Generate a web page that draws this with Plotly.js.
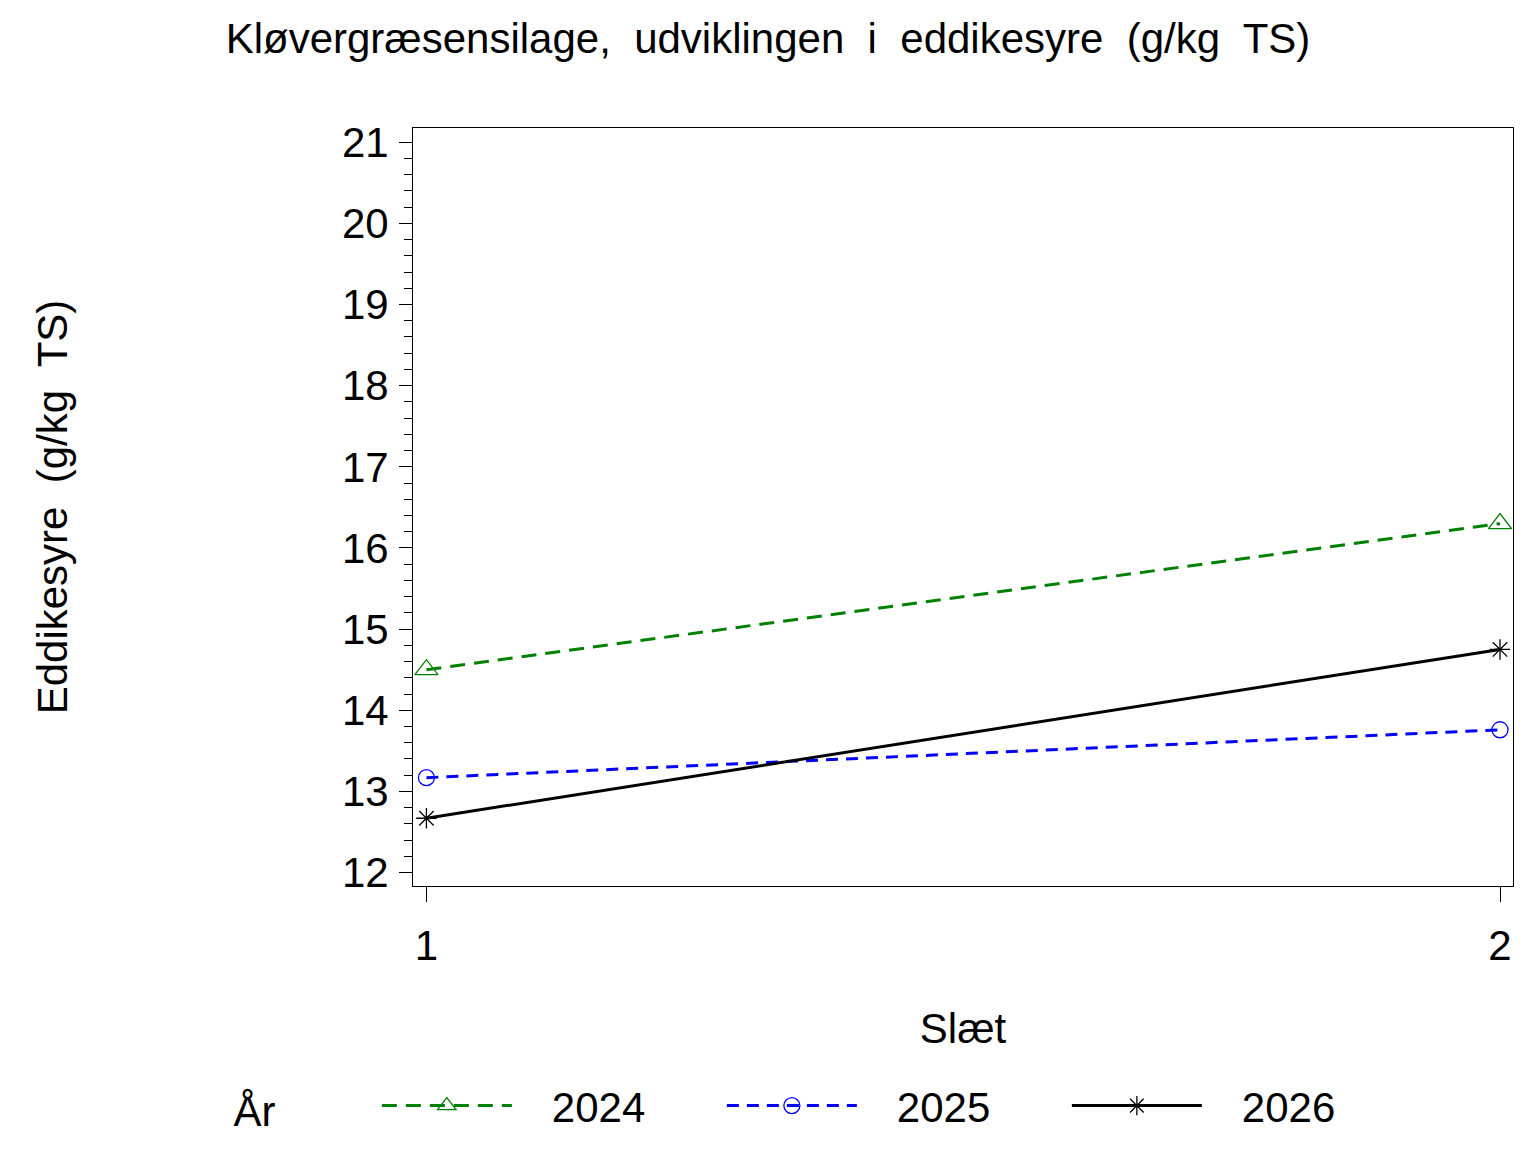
<!DOCTYPE html>
<html>
<head>
<meta charset="utf-8">
<script src="https://cdn.plot.ly/plotly-3.0.1.min.js"></script>
<style>
  body { margin: 0; background: #fff; }
  #chart { width: 1536px; height: 1152px; }
</style>
</head>
<body>
<div id="chart"></div>
<script>
var slaet = [1, 2];
var years = ['2024', '2025', '2026'];

var eddike2024 = [14.50, 16.30];
var eddike2025 = [13.17, 13.76];
var eddike2026 = [12.67, 14.75];

var lineColors = ['#008000', '#0000ff', '#000000'];
var lineDash = ['15px,9px', '12px,8px', 'solid'];
var symbols = ['triangle-up-open', 'circle-open', 'asterisk-open'];
var markerSizes = [20, 16, 17];

var allValues = [eddike2024, eddike2025, eddike2026];
var font = 'Liberation Sans, Arial, sans-serif';
var nb = '\u00a0';

var data = years.map(function (yr, i) {
  return {
    x: slaet,
    y: allValues[i],
    type: 'scatter',
    mode: 'lines+markers',
    name: nb + nb + nb + yr,
    line: {color: lineColors[i], width: 3, dash: lineDash[i]},
    marker: {symbol: symbols[i], size: markerSizes[i], color: lineColors[i],
             line: {width: 1.3, color: lineColors[i]}}
  };
});

var layout = {
  width: 1536,
  height: 1152,
  paper_bgcolor: '#fff',
  plot_bgcolor: '#fff',
  font: {family: font, size: 42, color: '#000'},
  margin: {t: 128, b: 266, l: 413, r: 23},
  title: {
    text: 'Kløvergræsensilage,' + nb + ' udviklingen' + nb + ' i' + nb + ' eddikesyre' + nb + ' (g/kg' + nb + ' TS)',
    font: {family: font, size: 42, color: '#000'},
    x: 0.5, xref: 'container', xanchor: 'center',
    y: 1 - 38 / 1152, yref: 'container', yanchor: 'middle'
  },
  xaxis: {
    range: [0.9875, 2.0121],
    tickvals: slaet,
    ticktext: ['1', '2'],
    ticks: 'outside', ticklen: 15, tickwidth: 1, tickcolor: '#000',
    ticklabelstandoff: 8,
    showline: true, linecolor: '#000', linewidth: 1, mirror: true,
    showgrid: false, zeroline: false,
    tickfont: {family: font, size: 42},
    title: {text: 'Slæt', font: {family: font, size: 42}, standoff: 45}
  },
  yaxis: {
    range: [11.835, 21.175],
    dtick: 1,
    ticks: 'outside', ticklen: 13, tickwidth: 1, tickcolor: '#000',
    ticklabelstandoff: 2,
    minor: {dtick: 0.2, ticks: 'outside', ticklen: 8, tickcolor: '#000', tickwidth: 1, showgrid: false},
    showline: true, linecolor: '#000', linewidth: 1, mirror: true,
    showgrid: false, zeroline: false,
    tickfont: {family: font, size: 42},
    title: {text: 'Eddikesyre' + nb + ' (g/kg' + nb + ' TS)', font: {family: font, size: 42}, standoff: 261}
  },
  showlegend: true,
  legend: {
    orientation: 'h',
    x: -0.165, xanchor: 'left',
    y: -0.29, yanchor: 'middle',
    title: {text: 'År' + nb + nb + nb + nb + nb + nb + nb + nb, side: 'left', font: {family: font, size: 42}},
    font: {family: font, size: 42},
    itemwidth: 130,
    entrywidth: 200,
    traceorder: 'normal'
  }
};

Plotly.newPlot('chart', data, layout, {displayModeBar: false, staticPlot: true});
</script>
</body>
</html>
